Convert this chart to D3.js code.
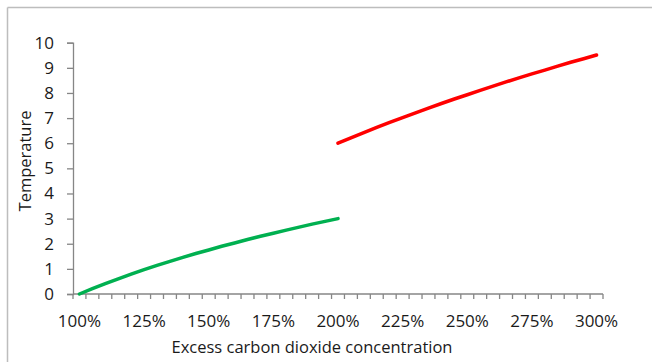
<!DOCTYPE html>
<html><head><meta charset="utf-8">
<script src="https://cdn.jsdelivr.net/npm/d3@7"></script>
<style>
html,body{margin:0;padding:0;background:#fff;}
text{font-family:"Open Sans",sans-serif;fill:#1a1a1a;}
</style></head>
<body><svg id="c" width="652" height="362"></svg>
<script>
const categories = ["100%","105%","110%","115%","120%","125%","130%","135%","140%","145%","150%","155%","160%","165%","170%","175%","180%","185%","190%","195%","200%","205%","210%","215%","220%","225%","230%","235%","240%","245%","250%","255%","260%","265%","270%","275%","280%","285%","290%","295%","300%"];
const greenValues = [0,0.21,0.41,0.60,0.79,0.97,1.14,1.30,1.46,1.61,1.75,1.90,2.03,2.17,2.30,2.42,2.54,2.66,2.78,2.89,3.00];
const redValues = [6.00,6.21,6.42,6.63,6.83,7.02,7.21,7.40,7.58,7.76,7.93,8.10,8.27,8.44,8.60,8.76,8.91,9.07,9.22,9.36,9.51];
const yTicks = [0,1,2,3,4,5,6,7,8,9,10];
const xLabels = ["100%","125%","150%","175%","200%","225%","250%","275%","300%"];

const svg = d3.select("#c");
svg.append("line").attr("x1",7.5).attr("x2",652).attr("y1",7.5).attr("y2",7.5).attr("stroke","#bdbdbd").attr("stroke-width",1.5);
svg.append("line").attr("x1",7.5).attr("x2",7.5).attr("y1",7.5).attr("y2",362).attr("stroke","#bdbdbd").attr("stroke-width",1.5);

const L=73, R=603, T=42.7, B=294;
const x = d3.scalePoint().domain(categories).range([L,R]).padding(0.5);
const band = d3.scaleBand().domain(categories).range([L,R]);
const y = d3.scaleLinear().domain([0,10]).range([B,T]);

const axisColor="#868686";
const ya = svg.append("g").attr("transform",`translate(${L},0)`)
  .call(d3.axisLeft(y).tickValues(yTicks).tickSize(6).tickPadding(13).tickFormat(d3.format("d")));
ya.select(".domain").attr("stroke",axisColor).attr("stroke-width",1.3);
ya.selectAll(".tick line").attr("stroke",axisColor).attr("stroke-width",1.3);
ya.selectAll("text").attr("font-size",17).style("fill","#1a1a1a");

const xg = svg.append("g").attr("transform",`translate(0,${B})`);
xg.append("line").attr("x1",L).attr("x2",R).attr("y1",0).attr("y2",0).attr("stroke",axisColor).attr("stroke-width",1.3);
const edges = categories.map(c=>band(c)).concat([R]);
xg.selectAll("line.t").data(edges).join("line").attr("class","t")
  .attr("x1",d=>d).attr("x2",d=>d).attr("y1",0).attr("y2",5).attr("stroke",axisColor).attr("stroke-width",1.3);
xg.selectAll("text").data(xLabels).join("text")
  .attr("x",d=>x(d)).attr("y",33).attr("text-anchor","middle").attr("font-size",17).text(d=>d);

svg.append("text").attr("x",312).attr("y",353).attr("text-anchor","middle").attr("font-size",16.5).text("Excess carbon dioxide concentration");
svg.append("text").attr("transform","translate(31,161) rotate(-90)").attr("text-anchor","middle").attr("font-size",16.5).text("Temperature");

const line = d3.line().x(d=>x(d[0])).y(d=>y(d[1]));
const greenData = greenValues.map((v,i)=>[categories[i],v]);
const redData = redValues.map((v,i)=>[categories[i+20],v]);
svg.append("path").datum(greenData).attr("d",line).attr("fill","none").attr("stroke","#00B050").attr("stroke-width",3.5).attr("stroke-linecap","round");
svg.append("path").datum(redData).attr("d",line).attr("fill","none").attr("stroke","#FF0000").attr("stroke-width",3.5).attr("stroke-linecap","round");
</script></body></html>
